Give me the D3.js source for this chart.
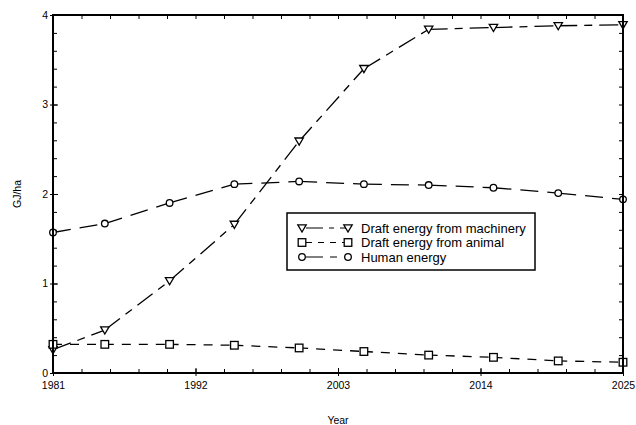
<!DOCTYPE html>
<html><head><meta charset="utf-8">
<script src="https://cdn.jsdelivr.net/npm/d3@7"></script>
<style>body{margin:0;background:#fff}svg{display:block;font-family:"Liberation Sans",Arial,sans-serif}</style>
</head><body><svg id="c" width="636" height="425"></svg>
<script>
const years = [1981,1985,1990,1995,2000,2005,2010,2015,2020,2025];
const machinery = [0.26,0.48,1.03,1.66,2.59,3.40,3.84,3.86,3.88,3.89];
const animal = [0.32,0.32,0.32,0.31,0.28,0.24,0.20,0.175,0.135,0.12];
const human = [1.57,1.67,1.90,2.11,2.14,2.11,2.10,2.07,2.01,1.94];
const xTickLabels = [1981,1992,2003,2014,2025];
const yTickLabels = [0,1,2,3,4];
const seriesNames = ["Draft energy from machinery","Draft energy from animal","Human energy"];

const svg = d3.select("#c");
const L=53,R=623,T=15,B=373;
const x = d3.scaleLinear().domain([1981,2025]).range([L,R]);
const y = d3.scaleLinear().domain([0,4]).range([B,T]);

const series = [
  {name:seriesNames[0], vals:machinery, marker:"tri", dash:"19,7,8,7"},
  {name:seriesNames[1], vals:animal, marker:"sq", dash:"9,8"},
  {name:seriesNames[2], vals:human, marker:"circ", dash:"18,9"}
];

const xMinor = d3.range(0,21).map(i=>1981+i*2.2);
const yMinor = d3.range(0,21).map(i=>i*0.2);
function styleMinor(s){s.select(".domain").remove();s.selectAll("line").attr("stroke","#000").attr("stroke-width",1);}
svg.append("g").attr("transform",`translate(0,${B})`).call(d3.axisBottom(x).tickValues(xMinor).tickSize(-4).tickFormat("")).call(styleMinor);
svg.append("g").attr("transform",`translate(0,${T})`).call(d3.axisTop(x).tickValues(xMinor).tickSize(-4).tickFormat("")).call(styleMinor);
svg.append("g").attr("transform",`translate(${L},0)`).call(d3.axisLeft(y).tickValues(yMinor).tickSize(-4).tickFormat("")).call(styleMinor);
svg.append("g").attr("transform",`translate(${R},0)`).call(d3.axisRight(y).tickValues(yMinor).tickSize(-4).tickFormat("")).call(styleMinor);

const xl = d3.axisBottom(x).tickValues(xTickLabels).tickSize(3).tickPadding(6).tickFormat(d=>d);
svg.append("g").attr("transform",`translate(0,${B})`).call(xl).call(s=>{s.select(".domain").remove();s.selectAll("line").attr("stroke","#000").attr("y1",-5);s.selectAll("text").attr("font-size",10.5).attr("fill","#000").attr("font-family","Liberation Sans, Arial, sans-serif");});
const ylab = d3.axisLeft(y).tickValues(yTickLabels).tickSize(3).tickPadding(2).tickFormat(d=>d);
svg.append("g").attr("transform",`translate(${L},0)`).call(ylab).call(s=>{s.select(".domain").remove();s.selectAll("line").attr("stroke","#000").attr("x1",5);s.selectAll("text").attr("font-size",10.5).attr("fill","#000").attr("font-family","Liberation Sans, Arial, sans-serif");});

svg.append("rect").attr("x",L).attr("y",T).attr("width",R-L).attr("height",B-T).attr("fill","none").attr("stroke","#000").attr("stroke-width",2);

series.forEach(s=>{
  const pts = years.map((yr,i)=>[x(yr),y(s.vals[i])]);
  d3.pairs(pts).forEach(([a,b])=>{
    svg.append("line").attr("x1",a[0]).attr("y1",a[1]).attr("x2",b[0]).attr("y2",b[1])
      .attr("stroke","#000").attr("stroke-width",1.3).attr("stroke-dasharray",s.dash);
  });
});

function drawMarker(sel,type,cx,cy){
  if(type==="tri"){
    sel.append("path").attr("d",`M${cx-4.2},${cy-3.2}L${cx+4.2},${cy-3.2}L${cx},${cy+4}Z`).attr("fill","#fff").attr("stroke","#000").attr("stroke-width",1.3);
  } else if(type==="sq"){
    sel.append("rect").attr("x",cx-3.8).attr("y",cy-3.8).attr("width",7.6).attr("height",7.6).attr("fill","#fff").attr("stroke","#000").attr("stroke-width",1.3);
  } else {
    sel.append("circle").attr("cx",cx).attr("cy",cy).attr("r",3.3).attr("fill","#fff").attr("stroke","#000").attr("stroke-width",1.3);
  }
}
const mg = svg.append("g");
series.forEach(s=>{
  years.forEach((yr,i)=>drawMarker(mg,s.marker,x(yr),y(s.vals[i])));
});
svg.append("line").attr("x1",R).attr("x2",R).attr("y1",T).attr("y2",B).attr("stroke","#000").attr("stroke-width",2);
svg.append("line").attr("x1",L).attr("x2",L).attr("y1",T).attr("y2",B).attr("stroke","#000").attr("stroke-width",2);

const lg = svg.append("g");
lg.append("rect").attr("x",287).attr("y",213).attr("width",248).attr("height",57).attr("fill","#fff").attr("stroke","#000").attr("stroke-width",1.5);
const legDash = ["17,6,5,6","6,6","17,7,7,7"];
series.forEach((s,i)=>{
  const yy = 228 + i*14.5;
  lg.append("line").attr("x1",302).attr("x2",348).attr("y1",yy).attr("y2",yy).attr("stroke","#000").attr("stroke-width",1.2).attr("stroke-dasharray",legDash[i]).attr("stroke-dashoffset",-4);
  drawMarker(lg,s.marker,302,yy);
  drawMarker(lg,s.marker,348,yy);
  lg.append("text").attr("x",361).attr("y",yy+4.5).attr("font-size",13).text(s.name);
});

svg.append("text").attr("x",338).attr("y",424).attr("text-anchor","middle").attr("font-size",10.5).text("Year");
svg.append("text").attr("transform","translate(21,194) rotate(-90)").attr("text-anchor","middle").attr("font-size",10.5).text("GJ/ha");
</script></body></html>
